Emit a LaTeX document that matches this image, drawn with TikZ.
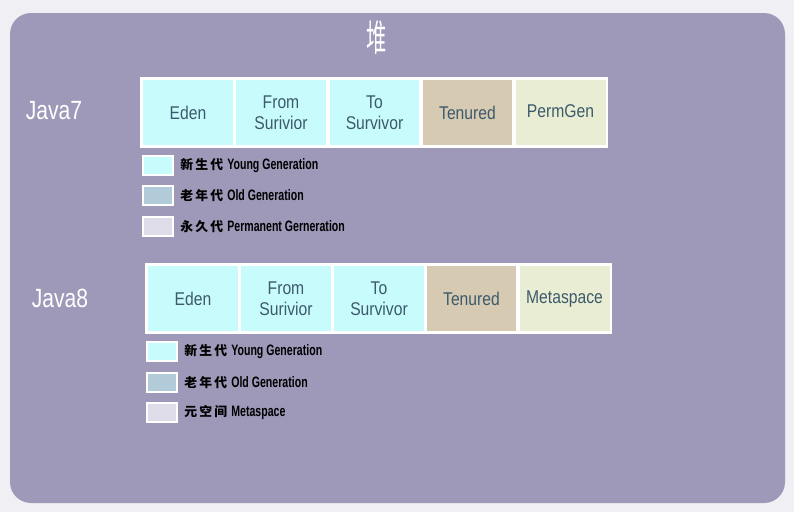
\documentclass[tikz,border=0pt]{standalone}
\usepackage{fontspec}
\usepackage{tikz}
\usetikzlibrary{positioning}
\setmainfont{Liberation Sans}
\newfontfamily\cjkfont{Noto Sans CJK SC}
\newfontfamily\narrowfont[FakeStretch=0.7]{Liberation Sans}
\newfontfamily\cellfont[FakeStretch=0.85]{Liberation Sans}
\newfontfamily\verfont[FakeStretch=0.8]{Liberation Sans}
\definecolor{HeapBack}{HTML}{F0EFF3}
\definecolor{HeapPanel}{HTML}{9E98B9}
\definecolor{HeapYoung}{HTML}{C8FCFC}
\definecolor{HeapOld}{HTML}{D6CAB2}
\definecolor{HeapPerm}{HTML}{E8EDD4}
\definecolor{HeapOldKey}{HTML}{B1CCD8}
\definecolor{HeapPermKey}{HTML}{DEDCE8}
\definecolor{HeapInk}{HTML}{3D5A6B}
\tikzset{
  celltext/.style={font=\cellfont\fontsize{10.5pt}{12pt}\selectfont, text=HeapInk, align=center},
  cellbox/.style={celltext, minimum width=1.8cm, minimum height=1.3cm, inner sep=0pt},
  youngcell/.style={cellbox, fill=HeapYoung},
  oldcell/.style={cellbox, fill=HeapOld},
  permcell/.style={cellbox, fill=HeapPerm, text height=1.6ex, text depth=0.5ex},
  framebox/.style={fill=white, minimum height=1.42cm, inner sep=0pt},
  verlabel/.style={font=\verfont\fontsize{15pt}{17pt}\selectfont, text=white},
  keybox/.style={draw=white, line width=0.6pt, minimum width=0.6cm, minimum height=0.38cm, inner sep=0pt},
  keytext/.style={font=\fontsize{8.6pt}{10pt}\selectfont\bfseries, text=black, anchor=west, inner sep=0pt}
}
\newcommand{\keyzh}[1]{{\cjkfont\bfseries\fontsize{7.3pt}{8pt}\selectfont #1}}

\begin{document}
\begin{tikzpicture}[x=0.02cm, y=-0.02cm]
\useasboundingbox[fill=HeapBack] (0,0) rectangle (794,512);
\path[fill=HeapPanel, rounded corners=0.42cm] (10,13) rectangle (785,503);
\node[text=white, font=\cjkfont\fontsize{21pt}{23pt}\selectfont] (heap) at (377,38) {\scalebox{0.55}[1]{堆}};
% Java7
\node[verlabel] (j7) at (54,111) {Java7};
\node[framebox, minimum width=9.36cm] (frame7) at (374,112.5) {};
\node[youngcell] (eden7) at (188,112.5) {Eden};
\node[youngcell] (from7) at (281,112.5) {From\\Surivior};
\node[youngcell] (to7) at (374.5,112.5) {To\\Survivor};
\node[oldcell] (ten7) at (467.5,112.5) {Tenured};
\node[permcell] (perm7) at (560.5,112.5) {PermGen};
\node[keybox, fill=HeapYoung] (ky7) at (158,165.5) {};
\node[keybox, fill=HeapOldKey] (ko7) at (158,195.5) {};
\node[keybox, fill=HeapPermKey] (kp7) at (158,226.5) {};
\node[keytext, right=0.13cm of ky7] (ty7) {\keyzh{新\,生\,代} \narrowfont Young Generation};
\node[keytext, right=0.13cm of ko7] (to7k) {\keyzh{老\,年\,代} \narrowfont Old Generation};
\node[keytext, right=0.13cm of kp7] (tp7) {\keyzh{永\,久\,代} \narrowfont Permanent Gerneration};
% Java8
\node[verlabel] (j8) at (60,298) {Java8};
\node[framebox, minimum width=9.34cm] (frame8) at (378.5,298.5) {};
\node[youngcell] (eden8) at (193,298.5) {Eden};
\node[youngcell] (from8) at (286,298.5) {From\\Surivior};
\node[youngcell] (to8) at (379,298.5) {To\\Survivor};
\node[oldcell] (ten8) at (471.5,298.5) {Tenured};
\node[permcell] (meta8) at (564.5,298.5) {Metaspace};
\node[keybox, fill=HeapYoung] (ky8) at (162,351.5) {};
\node[keybox, fill=HeapOldKey] (ko8) at (162,382.5) {};
\node[keybox, fill=HeapPermKey] (km8) at (162,412.5) {};
\node[keytext, right=0.13cm of ky8] (ty8) {\keyzh{新\,生\,代} \narrowfont Young Generation};
\node[keytext, right=0.13cm of ko8] (to8k) {\keyzh{老\,年\,代} \narrowfont Old Generation};
\node[keytext, right=0.13cm of km8] (tm8) {\keyzh{元\,空\,间} \narrowfont Metaspace};
\end{tikzpicture}
\end{document}
